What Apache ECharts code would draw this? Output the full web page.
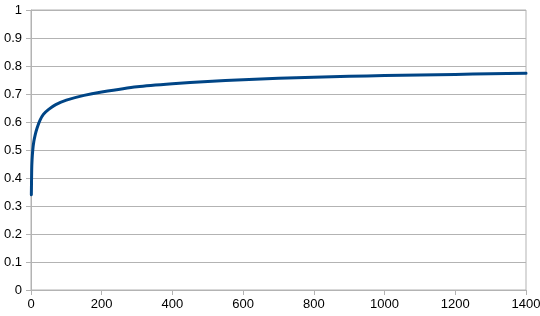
<!DOCTYPE html>
<html>
<head>
<meta charset="utf-8">
<script src="https://cdn.jsdelivr.net/npm/echarts@6/dist/echarts.min.js"></script>
<style>html,body{margin:0;padding:0;background:#fff;}#c{width:540px;height:316px;}</style>
</head>
<body>
<div id="c"></div>
<script>
var xValues = [1, 2, 3, 5, 8, 12, 17, 25, 35, 50, 70, 100, 150, 200, 300, 400, 500, 600, 700, 800, 900, 1000, 1100, 1200, 1300, 1400];
var yValues = [0.34, 0.43, 0.465, 0.50, 0.53, 0.555, 0.578, 0.605, 0.627, 0.645, 0.662, 0.678, 0.695, 0.707, 0.726, 0.737, 0.745, 0.751, 0.756, 0.760, 0.763, 0.766, 0.768, 0.770, 0.772, 0.774];
var xTicks = { min: 0, max: 1400, interval: 200 };
var yTicks = { min: 0, max: 1, interval: 0.1 };

var chart = echarts.init(document.getElementById('c'), null, { renderer: 'canvas' });
var axisGray = '#b3b3b3';
var labelStyle = { color: '#000', fontFamily: 'Liberation Sans, Arial, sans-serif', fontSize: 13 };
chart.setOption({
  animation: false,
  grid: { left: 31, right: 14, top: 10, bottom: 26, show: true, borderColor: axisGray, borderWidth: 1, containLabel: false, outerBoundsMode: 'none' },
  xAxis: {
    type: 'value', min: xTicks.min, max: xTicks.max, interval: xTicks.interval,
    axisLine: { show: true, lineStyle: { color: axisGray } },
    axisTick: { show: true, length: 5, lineStyle: { color: axisGray } },
    splitLine: { show: false },
    axisLabel: Object.assign({ margin: 8, formatter: function (v) { return String(v); } }, labelStyle)
  },
  yAxis: {
    type: 'value', min: yTicks.min, max: yTicks.max, interval: yTicks.interval,
    axisLine: { show: true, lineStyle: { color: axisGray } },
    axisTick: { show: true, length: 5, lineStyle: { color: axisGray } },
    splitLine: { show: true, lineStyle: { color: axisGray } },
    axisLabel: Object.assign({ margin: 9, formatter: function (v) { return String(Math.round(v * 10) / 10); } }, labelStyle)
  },
  series: [{
    type: 'line',
    data: xValues.map(function (x, i) { return [x, yValues[i]]; }),
    smooth: 0.25,
    showSymbol: false,
    lineStyle: { color: '#004586', width: 3, join: 'round', cap: 'round' }
  }]
});
</script>
</body>
</html>
